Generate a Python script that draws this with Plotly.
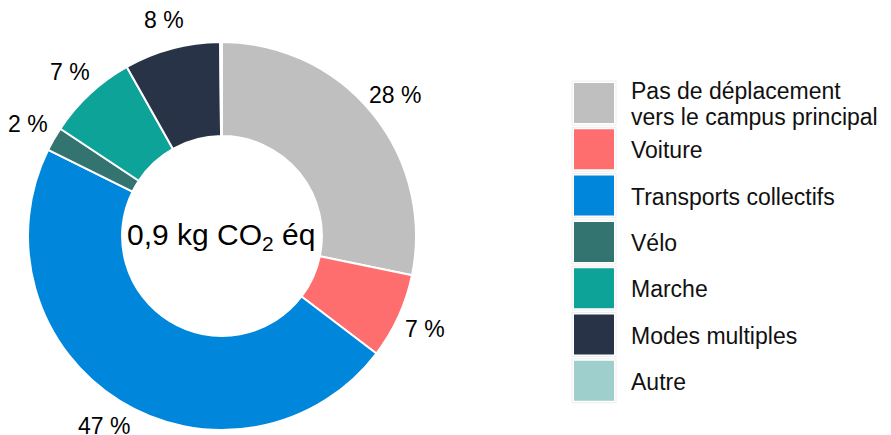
import math
import plotly.graph_objects as go

categories = ["Pas de déplacement<br>vers le campus principal", "Voiture", "Transports collectifs",
              "Vélo", "Marche", "Modes multiples", "Autre"]
values = [28.2, 7.1, 46.9, 2.0, 7.5, 8.0, 0.15]
labels_shown = ["28 %", "7 %", "47 %", "2 %", "7 %", "8 %", ""]
colors = ["#BFBFBF", "#FF6E6E", "#0087DC", "#347470", "#0DA399", "#283348", "#9FCFCC"]
center_text = "0,9 kg CO<sub>2</sub> éq"

# page body has an 8px margin; figure coordinates are page coordinates minus 8
W, H = 891, 435
FONT = "Liberation Sans, Arial, sans-serif"
CX, CY, R = 214, 228, 194  # pie centre / radius in figure pixels

fig = go.Figure(go.Pie(
    labels=categories, values=values,
    textinfo="none",
    marker=dict(colors=colors, line=dict(color="#FFFFFF", width=2)),
    hole=0.515, sort=False, direction="clockwise", rotation=0,
    showlegend=False, hoverinfo="label+percent",
    domain=dict(x=[(CX - R) / W, (CX + R) / W], y=[1 - (CY + R) / H, 1 - (CY - R) / H]),
))

shapes, annots = [], []

# percentage labels at each slice's mid-angle, outside the ring
total = sum(values)
cum = 0.0
for v, t in zip(values, labels_shown):
    mid = (cum + v / 2) / total
    cum += v
    if not t:
        continue
    a = 2 * math.pi * mid
    r = R * 1.152
    px, py = CX + r * math.sin(a), CY - r * math.cos(a)
    annots.append(dict(x=px / W, y=1 - py / H, xref="paper", yref="paper", text=t,
                       showarrow=False, xanchor="center", yanchor="middle", borderpad=0,
                       font=dict(size=23, color="#000000", family=FONT)))

# legend drawn from the category list
x0, size, pitch, top = 566, 40, 46.3, 75
for i, (name, c) in enumerate(zip(categories, colors)):
    y_top = top + i * pitch
    shapes.append(dict(type="rect", xref="paper", yref="paper",
                       x0=(x0 - 2) / W, x1=(x0 + size + 2) / W,
                       y0=1 - (y_top + size + 2) / H, y1=1 - (y_top - 2) / H,
                       fillcolor="#FFFFFF", line=dict(color="#EEEEEE", width=1)))
    shapes.append(dict(type="rect", xref="paper", yref="paper",
                       x0=x0 / W, x1=(x0 + size) / W,
                       y0=1 - (y_top + size) / H, y1=1 - y_top / H,
                       fillcolor=c, line=dict(width=0)))
    lines = name.split("<br>")
    n = len(lines)
    for j, ln in enumerate(lines):
        yc = y_top + size / 2 + 1 + (j - (n - 1) / 2) * 25
        annots.append(dict(x=621 / W, y=1 - yc / H, xref="paper", yref="paper",
                           text=ln, showarrow=False, xanchor="left", yanchor="middle", align="left",
                           font=dict(size=23, color="#111111", family=FONT)))

annots.append(dict(x=213 / W, y=1 - 228 / H, xref="paper", yref="paper", text=center_text,
                   showarrow=False, xanchor="center", yanchor="middle",
                   font=dict(size=30, color="#000000", family=FONT)))

fig.update_layout(width=W, height=H, margin=dict(l=0, r=0, t=0, b=0),
                  paper_bgcolor="#FFFFFF", plot_bgcolor="#FFFFFF",
                  shapes=shapes, annotations=annots, font=dict(family=FONT))
fig.write_html("out.html")
